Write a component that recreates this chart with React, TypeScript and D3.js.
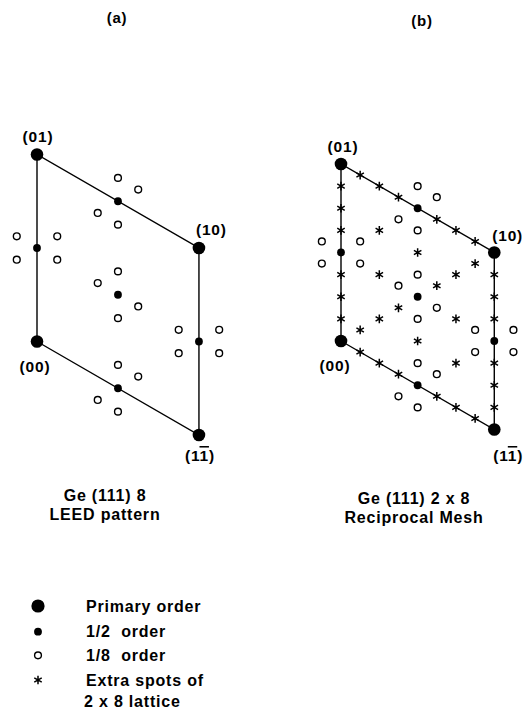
import React from 'react';
import * as d3 from 'd3';

// spot positions, in eighths of the reciprocal lattice vectors (h, k)
const primarySpots = [[0, 0], [8, 0], [0, 8], [8, -8]];
const halfSpots = [[0, 4], [4, 4], [4, 0], [8, -4], [4, -4]];
const eighthSpots = [
  [1, 4], [-1, 4], [1, 3], [-1, 5],
  [4, 5], [4, 3], [5, 4], [3, 4],
  [4, 1], [4, -1], [5, -1], [3, 1],
  [9, -4], [7, -4], [9, -5], [7, -3],
  [4, -3], [4, -5], [5, -4], [3, -4],
];
const extraSpots = [
  [0, 1], [0, 2], [0, 3], [0, 5], [0, 6], [0, 7],
  [1, 7], [2, 6], [3, 5], [5, 3], [6, 2], [7, 1],
  [8, -1], [8, -2], [8, -3], [8, -5], [8, -6], [8, -7],
  [1, -1], [2, -2], [3, -3], [5, -5], [6, -6], [7, -7],
  [1, 0], [2, 0], [3, 0], [5, 0], [6, 0], [7, 0],
  [2, 4], [4, 2], [2, 2], [6, -2], [4, -2], [6, -4],
];
const meshOutline = [[0, 0], [0, 8], [8, 0], [8, -8], [0, 0]];
const cornerNames = ['(00)', '(01)', '(10)', '(11)'];
const cornerSpots = [[0, 0], [0, 8], [8, 0], [8, -8]];
const legendItems = ['Primary order', '1/2  order', '1/8  order', 'Extra spots of'];

const panels = [
  {
    origin: [37, 341.5], size: 187, title: '(a)', titleAt: [117, 23],
    captions: ['Ge (111) 8', 'LEED pattern'], captionAt: [105, 501], extra: false,
    // label offsets from the spot: [dx, dy, anchor]
    labelOff: [[-2, 30.5, 'middle'], [1, -12.5, 'middle'], [-3, -13, 'start'], [1, 26, 'middle']],
  },
  {
    origin: [341, 341], size: 177, title: '(b)', titleAt: [422, 26],
    captions: ['Ge (111) 2 x 8', 'Reciprocal Mesh'], captionAt: [414, 504], extra: true,
    labelOff: [[-6, 30, 'middle'], [2, -12, 'middle'], [-2, -11.5, 'start'], [-1, 31.5, 'start']],
  },
];

const font = "'Liberation Sans', Arial, Helvetica, sans-serif";
const cos30 = Math.cos(Math.PI / 6);

function Panel({ p }: { p: any }) {
  const x = d3.scaleLinear().domain([0, 1]).range([p.origin[0], p.origin[0] + p.size]);
  const y = d3.scaleLinear().domain([0, 1]).range([p.origin[1], p.origin[1] - p.size]);
  const px = (d: number[]) => x((d[0] / 8) * cos30);
  const py = (d: number[]) => y(d[0] / 16 + d[1] / 8);
  const line = d3.line<number[]>().x(px).y(py);
  const star = d3.symbol().type(d3.symbolAsterisk).size(52)() as string;

  return (
    <g>
      <text x={p.titleAt[0]} y={p.titleAt[1]} textAnchor="middle" fontSize={15} fontWeight="bold" letterSpacing={0.8}>{p.title}</text>
      <path d={line(meshOutline) as string} fill="none" stroke="#000" strokeWidth={1.4} />
      {p.extra && extraSpots.map((d, i) => (
        <path key={'x' + i} d={star} transform={`translate(${px(d)},${py(d)})`} stroke="#000" strokeWidth={1.5} fill="none" />
      ))}
      {eighthSpots.map((d, i) => (
        <circle key={'e' + i} cx={px(d)} cy={py(d)} r={3.4} fill="#fff" stroke="#000" strokeWidth={1.4} />
      ))}
      {halfSpots.map((d, i) => (
        <circle key={'h' + i} cx={px(d)} cy={py(d)} r={3.9} fill="#000" />
      ))}
      {primarySpots.map((d, i) => (
        <circle key={'p' + i} cx={px(d)} cy={py(d)} r={6.3} fill="#000" />
      ))}
      {cornerSpots.map((d, i) => {
        const o = p.labelOff[i];
        const name = cornerNames[i];
        return (
          <text key={'l' + i} x={px(d) + o[0]} y={py(d) + o[1]} textAnchor={o[2]} fontSize={15.5} fontWeight="bold" letterSpacing={0.8}>
            {i === 3 ? (<>{'(1'}<tspan style={{ textDecoration: 'overline' }}>1</tspan>{')'}</>) : name}
          </text>
        );
      })}
      {p.captions.map((c: string, i: number) => (
        <text key={'c' + i} x={p.captionAt[0]} y={p.captionAt[1] + i * 19} textAnchor="middle" fontSize={16} fontWeight="bold" letterSpacing={0.8}>{c}</text>
      ))}
    </g>
  );
}

export default function App() {
  const ly = d3.scaleLinear().domain([0, 3]).range([606, 680]);
  const star = d3.symbol().type(d3.symbolAsterisk).size(52)() as string;
  return (
    <svg width={524} height={713} style={{ position: 'absolute', left: 0, top: 0, background: '#fff' }} fontFamily={font}>
      <rect width={524} height={713} fill="#fff" />
      {panels.map((p, i) => <Panel key={i} p={p} />)}
      <g>
        <circle cx={38} cy={ly(0)} r={6.6} fill="#000" />
        <circle cx={38} cy={ly(1) + 1} r={3.9} fill="#000" />
        <circle cx={38} cy={ly(2)} r={3.4} fill="#fff" stroke="#000" strokeWidth={1.4} />
        <path d={star} transform={`translate(38,${ly(3)})`} stroke="#000" strokeWidth={1.5} fill="none" />
        {legendItems.map((t, i) => (
          <text key={i} x={86} y={ly(i) + 6} fontSize={16} fontWeight="bold" letterSpacing={0.8} style={{ whiteSpace: 'pre' }}>{t}</text>
        ))}
        <text x={84} y={ly(3) + 27} fontSize={16} fontWeight="bold" letterSpacing={0.8}>2 x 8 lattice</text>
      </g>
    </svg>
  );
}
